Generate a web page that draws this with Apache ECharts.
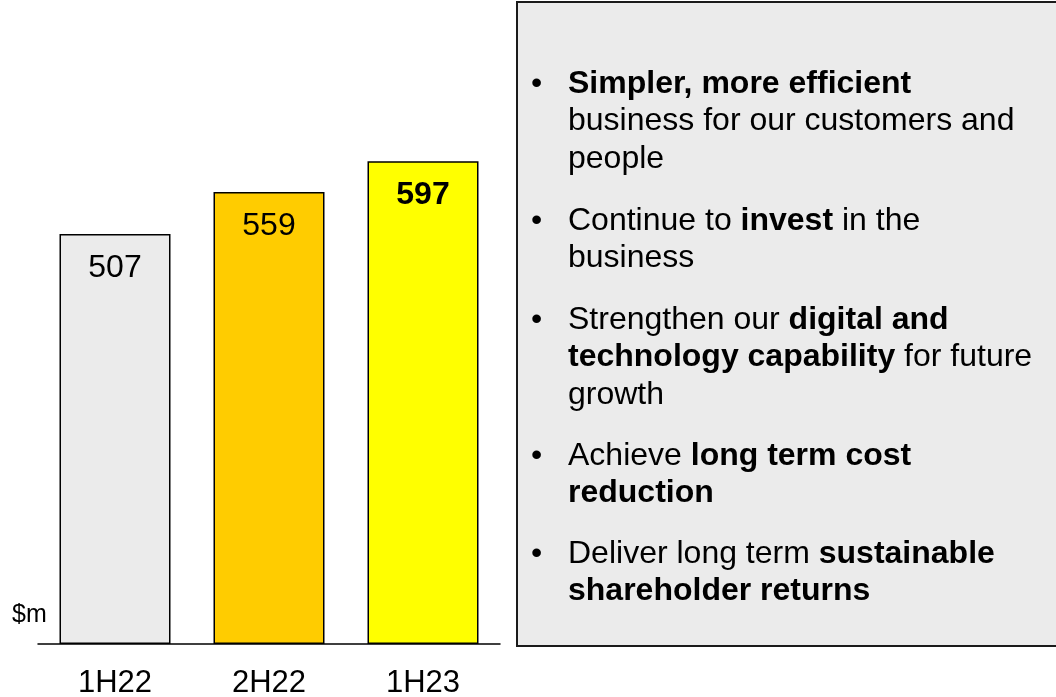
<!DOCTYPE html>
<html>
<head>
<meta charset="utf-8">
<script src="https://cdn.jsdelivr.net/npm/echarts@6/dist/echarts.min.js"></script>
<style>
  html, body { margin: 0; padding: 0; background: #fff; }
  #main { width: 1056px; height: 697px; }
</style>
</head>
<body>
<div id="main"></div>
<script>
var categories = ['1H22', '2H22', '1H23'];
var values = [507, 559, 597];
var barColors = ['#ebebeb', '#ffcc00', '#ffff00'];
var boldLabel = [false, false, true];
var unitLabel = '$m';

// bullet points, {b|...} marks bold runs
var bullets = [
    '{b|Simpler, more efficient}\nbusiness for our customers and\npeople',
    'Continue to {b|invest} in the\nbusiness',
    'Strengthen our {b|digital and}\n{b|technology capability} for future\ngrowth',
    'Achieve {b|long term cost}\n{b|reduction}',
    'Deliver long term {b|sustainable}\n{b|shareholder returns}'
];
var bulletTops = [65, 202, 301, 437, 535];

var chart = echarts.init(document.getElementById('main'));
var font = 'Arial, "Liberation Sans", sans-serif';

var barData = [];
for (var i = 0; i < values.length; i++) {
    barData.push({
        value: values[i],
        itemStyle: { color: barColors[i] },
        label: { fontWeight: boldLabel[i] ? 'bold' : 'normal' }
    });
}

var graphics = [
    {
        type: 'rect',
        shape: { x: 517, y: 2, width: 560, height: 644 },
        style: { fill: '#ebebeb', stroke: '#1a1a1a', lineWidth: 2 },
        z: 0
    },
    {
        type: 'text',
        x: 12, y: 615,
        style: {
            text: unitLabel, font: '25px ' + font, fill: '#000',
            textVerticalAlign: 'middle'
        }
    }
];
for (var j = 0; j < bullets.length; j++) {
    graphics.push({
        type: 'text',
        x: 531, y: bulletTops[j],
        style: {
            text: '•', font: '32px ' + font, fill: '#000',
            lineHeight: 37.5, textVerticalAlign: 'top'
        },
        z: 2
    });
    graphics.push({
        type: 'text',
        x: 568, y: bulletTops[j],
        style: {
            text: bullets[j], font: '32px ' + font, fill: '#000',
            lineHeight: 37.5, textVerticalAlign: 'top',
            rich: {
                b: { fontWeight: 'bold', fontSize: 32, fontFamily: font, lineHeight: 37.5 }
            }
        },
        z: 2
    });
}

var option = {
    backgroundColor: '#fff',
    animation: false,
    grid: { left: 38, right: 556, top: 78, bottom: 53, outerBoundsMode: 'none', containLabel: false },
    xAxis: {
        type: 'category',
        data: categories,
        axisLine: { lineStyle: { color: '#000', width: 1.5 } },
        axisTick: { show: false },
        axisLabel: { color: '#000', fontSize: 31, fontFamily: font, margin: 24 }
    },
    yAxis: {
        type: 'value',
        min: 0,
        max: 700,
        show: false
    },
    series: [
        {
            type: 'bar',
            barWidth: 111,
            data: barData,
            itemStyle: { borderColor: '#000', borderWidth: 1.5 },
            label: {
                show: true,
                position: 'insideTop',
                distance: 18,
                color: '#000',
                fontSize: 32,
                fontFamily: font
            }
        }
    ],
    graphic: graphics
};

chart.setOption(option);
</script>
</body>
</html>
